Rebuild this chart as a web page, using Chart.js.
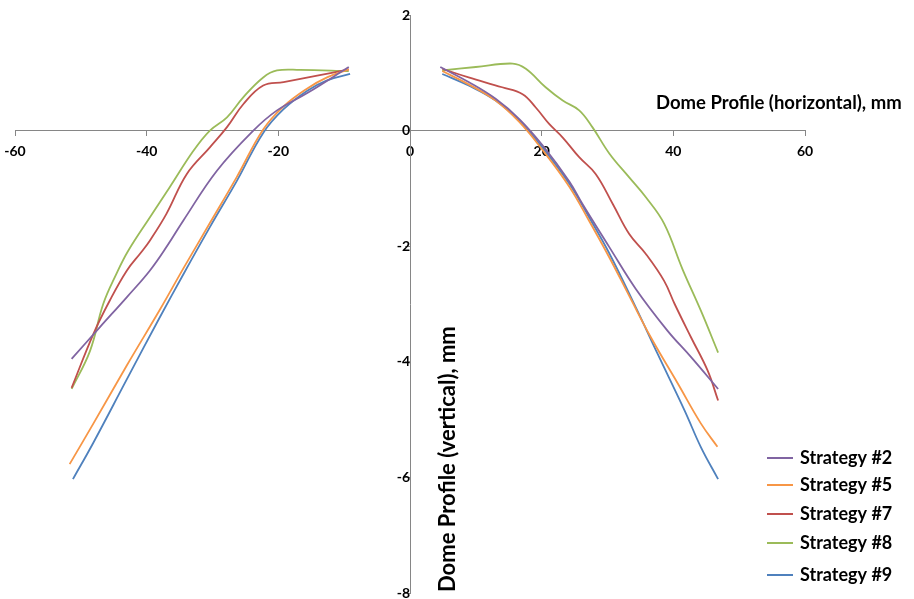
<!DOCTYPE html>
<html>
<head>
<meta charset="utf-8">
<script src="https://cdn.jsdelivr.net/npm/chart.js@4.4.1/dist/chart.umd.min.js"></script>
<style>
  html, body { margin: 0; padding: 0; background: #fff; }
</style>
</head>
<body>
<canvas id="domeChart" width="914" height="599"></canvas>
<script>
// series names and colours (legend order)
const seriesNames = ['Strategy #2', 'Strategy #5', 'Strategy #7', 'Strategy #8', 'Strategy #9'];
const seriesColors = ['#8064A2', '#F79646', '#C0504D', '#9BBB59', '#4F81BD'];

// left half, gap (null), right half
const s2X = [-51.4, -47.1, -43, -39.5, -36.8, -34.4, -29.3, -23.8, -20.2, -15.6, -9.3, null,
  4.6, 8.9, 13, 16.6, 20.1, 24.2, 26.2, 30.3, 34.3, 39.1, 42.7, 46.8];
const s2Y = [-3.95, -3.4, -2.88, -2.42, -1.98, -1.55, -0.69, 0, 0.35, 0.65, 1.1, null,
  1.1, 0.84, 0.55, 0.2, -0.25, -0.88, -1.27, -2.02, -2.74, -3.46, -3.92, -4.47];

const s5X = [-51.7, -48.1, -43, -38, -34.4, -30.4, -26.3, -22.3, -19.2, -15.6, -12.6, -9.3, null,
  4.9, 8.9, 13, 16.6, 20.1, 24.2, 27.2, 30.3, 33.3, 36.6, 40.7, 44.2, 46.7];
const s5Y = [-5.77, -5.07, -4.06, -3.1, -2.38, -1.6, -0.8, 0.02, 0.42, 0.73, 0.92, 1.06, null,
  1.03, 0.8, 0.52, 0.15, -0.33, -0.97, -1.56, -2.2, -2.86, -3.58, -4.38, -5.07, -5.47];

const s7X = [-51.4, -48.1, -45.6, -43, -40.8, -39.5, -37, -33.9, -30.4, -27.8, -25.3, -22.3, -19.2, -14.1, -9.3, null,
  4.9, 8.9, 14, 17.1, 19.1, 21.1, 23.2, 25.7, 28.2, 30.8, 33.3, 35.8, 38.6, 40.2, 42.7, 45.2, 46.8];
const s7Y = [-4.45, -3.52, -2.94, -2.42, -2.1, -1.9, -1.44, -0.75, -0.29, 0.06, 0.46, 0.78, 0.84, 0.95, 1.06, null,
  1.07, 0.92, 0.75, 0.63, 0.4, 0.12, -0.12, -0.46, -0.75, -1.27, -1.79, -2.13, -2.6, -3.0, -3.58, -4.15, -4.67];

const s8X = [-51.4, -48.6, -46.6, -44.6, -42.8, -39.5, -36.5, -32.9, -30.4, -27.8, -25.3, -22.3, -20.2, -16.7, -9.3, null,
  4.9, 10, 15.6, 17.6, 20.6, 23.2, 25.7, 27.7, 30.3, 33.3, 35.8, 38.6, 41.4, 44.2, 46.8];
const s8Y = [-4.47, -3.81, -3.0, -2.48, -2.08, -1.5, -0.98, -0.35, 0, 0.23, 0.58, 0.92, 1.04, 1.05, 1.03, null,
  1.04, 1.1, 1.16, 1.07, 0.75, 0.52, 0.35, 0.06, -0.4, -0.81, -1.15, -1.61, -2.4, -3.12, -3.84];

const s9X = [-51.2, -48.1, -43, -38, -34.4, -30.4, -26.3, -22.3, -19.2, -15.6, -12.6, -9.1, null,
  4.9, 8.9, 13, 16.6, 20.1, 24.2, 27.2, 30.3, 34.3, 37.6, 41.7, 44.2, 46.8];
const s9Y = [-6.03, -5.4, -4.3, -3.23, -2.48, -1.67, -0.87, -0.04, 0.37, 0.69, 0.87, 0.98, null,
  0.98, 0.78, 0.52, 0.17, -0.29, -0.92, -1.5, -2.13, -3.06, -3.86, -4.84, -5.48, -6.03];

const seriesX = [s2X, s5X, s7X, s8X, s9X];
const seriesY = [s2Y, s5Y, s7Y, s8Y, s9Y];

const xTitle = 'Dome Profile (horizontal), mm';
const yTitle = 'Dome Profile (vertical), mm';

const FONT = 'Lato, "Open Sans", sans-serif';

function toPoints(xs, ys) {
  return xs.map((x, i) => ({ x: x, y: ys[i] }));
}

const datasets = seriesNames.map((name, i) => ({
  label: name,
  data: toPoints(seriesX[i], seriesY[i]),
  borderColor: seriesColors[i],
  backgroundColor: seriesColors[i],
  borderWidth: 1.8,
  showLine: true,
  pointRadius: 0,
  tension: 0.4,
  spanGaps: false
}));

// axis titles and the legend sit in odd places, so draw them by hand
const decorations = {
  id: 'decorations',
  afterDraw(chart) {
    const ctx = chart.ctx;
    ctx.save();
    ctx.fillStyle = '#000';
    ctx.textBaseline = 'middle';
    ctx.textAlign = 'left';

    ctx.font = 'bold 18.5px ' + FONT;
    ctx.fillText(xTitle, 656, 103);

    ctx.save();
    ctx.translate(448, 592);
    ctx.rotate(-Math.PI / 2);
    ctx.font = 'bold 22px ' + FONT;
    ctx.fillText(yTitle, 0, 0);
    ctx.restore();

    const rowY = [458, 485, 514, 543, 575];
    ctx.font = 'bold 18px ' + FONT;
    seriesNames.forEach((name, i) => {
      ctx.strokeStyle = seriesColors[i];
      ctx.lineWidth = 2;
      ctx.beginPath();
      ctx.moveTo(767, rowY[i]);
      ctx.lineTo(793, rowY[i]);
      ctx.stroke();
      ctx.fillText(name, 800, rowY[i]);
    });
    ctx.restore();
  }
};

// keep label overhang from shrinking the plot area
function noPadding(scale) {
  scale.paddingTop = 0;
  scale.paddingBottom = 0;
  scale.paddingLeft = 0;
  scale.paddingRight = 0;
}

new Chart(document.getElementById('domeChart').getContext('2d'), {
  type: 'scatter',
  data: { datasets: datasets },
  plugins: [decorations],
  options: {
    responsive: false,
    animation: false,
    layout: { padding: { left: 15, right: 109, top: 15, bottom: 6 } },
    plugins: {
      legend: { display: false },
      tooltip: { enabled: false }
    },
    scales: {
      x: {
        type: 'linear',
        position: { y: 0 },
        min: -60,
        max: 60,
        afterFit: noPadding,
        ticks: {
          stepSize: 20,
          color: '#000',
          padding: 7,
          font: { family: FONT, size: 14, weight: 'bold' }
        },
        grid: { drawOnChartArea: false, drawTicks: true, tickLength: 5, color: '#868686' },
        border: { color: '#868686', width: 1 }
      },
      y: {
        type: 'linear',
        position: { x: 0 },
        min: -8,
        max: 2,
        afterFit: noPadding,
        ticks: {
          stepSize: 2,
          color: '#000',
          padding: 8,
          font: { family: FONT, size: 14, weight: 'bold' }
        },
        grid: { drawOnChartArea: false, drawTicks: true, tickLength: 5, color: '#868686' },
        border: { color: '#868686', width: 1 }
      }
    }
  }
});
</script>
</body>
</html>
